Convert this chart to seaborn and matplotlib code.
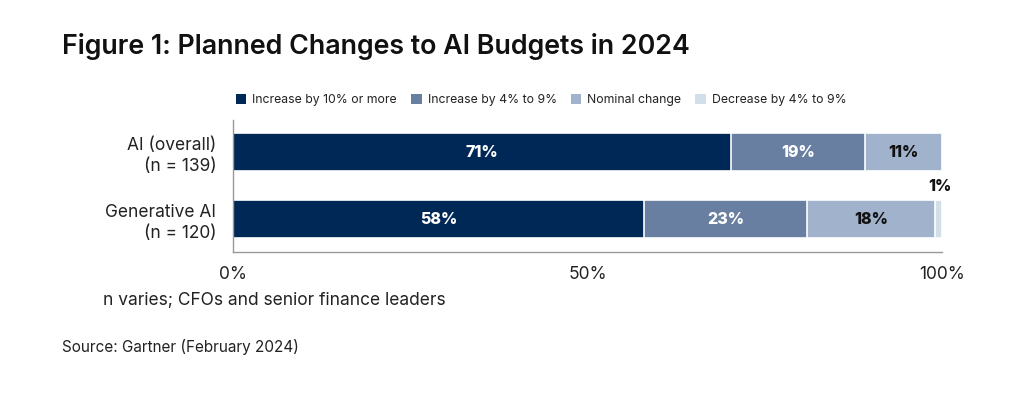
import numpy as np
import pandas as pd
import matplotlib
matplotlib.use("Agg")
import matplotlib.pyplot as plt
import seaborn as sns
from matplotlib.patches import Patch

categories = ["AI (overall)\n(n = 139)", "Generative AI\n(n = 120)"]
series = ["Increase by 10% or more", "Increase by 4% to 9%", "Nominal change", "Decrease by 4% to 9%"]
inc10 = [71, 58]
inc4 = [19, 23]
nominal = [11, 18]
decrease = [0, 1]
xticks = [0, 50, 100]
xtick_labels = ["0%", "50%", "100%"]

colors = ["#002856", "#687fa1", "#a0b2cc", "#d3deeb"]
label_colors = ["white", "white", "#111111", "#111111"]

sns.set_theme(style="white")
plt.rcParams['font.family'] = ['Inter', 'DejaVu Sans']

vals = np.array([inc10, inc4, nominal, decrease], dtype=float)  # series x cats
shares = vals / vals.sum(axis=0) * 100
cum = np.cumsum(shares, axis=0)

fig = plt.figure(figsize=(10.26, 3.97), dpi=100)
ax = fig.add_axes([233/1026, 1-252/397, (942-233)/1026, (252-120)/397])

for i in range(len(series) - 1, -1, -1):
    df = pd.DataFrame({"cat": categories, "x": cum[i]})
    sns.barplot(data=df, y="cat", x="x", orient="h", color=colors[i], width=0.57,
                edgecolor="white", linewidth=1.2, ax=ax, saturation=1)

ax.set_ylim(1.49, -0.48)
ax.set_xlim(0, 100)
ax.set_xticks(xticks)
ax.set_xticklabels(xtick_labels, fontsize=12.5, color="#222222")
ax.set_xlabel("")
ax.set_ylabel("")
ax.tick_params(axis="y", labelsize=12.5, colors="#222222", length=0, pad=12)
ax.tick_params(axis="x", length=0, pad=10)
for lbl in ax.get_yticklabels():
    lbl.set_horizontalalignment("right")
    lbl.set_multialignment("right")
    lbl.set_linespacing(1.3)
for s in ["top", "right"]:
    ax.spines[s].set_visible(False)
ax.spines["left"].set_color("#999999")
ax.spines["bottom"].set_color("#999999")
ax.spines["left"].set_linewidth(1)
ax.spines["bottom"].set_linewidth(1)

# segment labels
for j in range(len(categories)):
    for i in range(len(series)):
        v = vals[i, j]
        if v <= 0:
            continue
        start = cum[i, j] - shares[i, j]
        if v < 5:
            ax.text(cum[i, j] - 0.3, j - 0.49, f"{int(v)}%", ha="center", va="center",
                    fontsize=11.5, fontweight="heavy", color="#111111")
        else:
            ax.text(start + shares[i, j] / 2, j, f"{int(v)}%", ha="center", va="center",
                    fontsize=11.5, fontweight="heavy", color=label_colors[i])

# legend
handles = [Patch(facecolor=c, edgecolor="none") for c in colors]
leg = fig.legend(handles, series, loc="center left", bbox_to_anchor=(236/1026, 1-100/397),
                 ncol=4, frameon=False, fontsize=8.8, handlelength=0.85, handleheight=0.85,
                 handletextpad=0.5, columnspacing=1.15, borderaxespad=0, borderpad=0)
for t in leg.get_texts():
    t.set_color("#222222")

fig.text(62/1026, 1-47/397, "Figure 1: Planned Changes to AI Budgets in 2024",
         fontsize=19.3, fontweight="semibold", color="#111111", ha="left", va="center")
fig.text(103/1026, 1-301/397, "n varies; CFOs and senior finance leaders",
         fontsize=12.5, color="#222222", ha="left", va="center")
fig.text(62/1026, 1-347/397, "Source: Gartner (February 2024)",
         fontsize=11, color="#222222", ha="left", va="center")

fig.savefig("out.png", dpi=100)
